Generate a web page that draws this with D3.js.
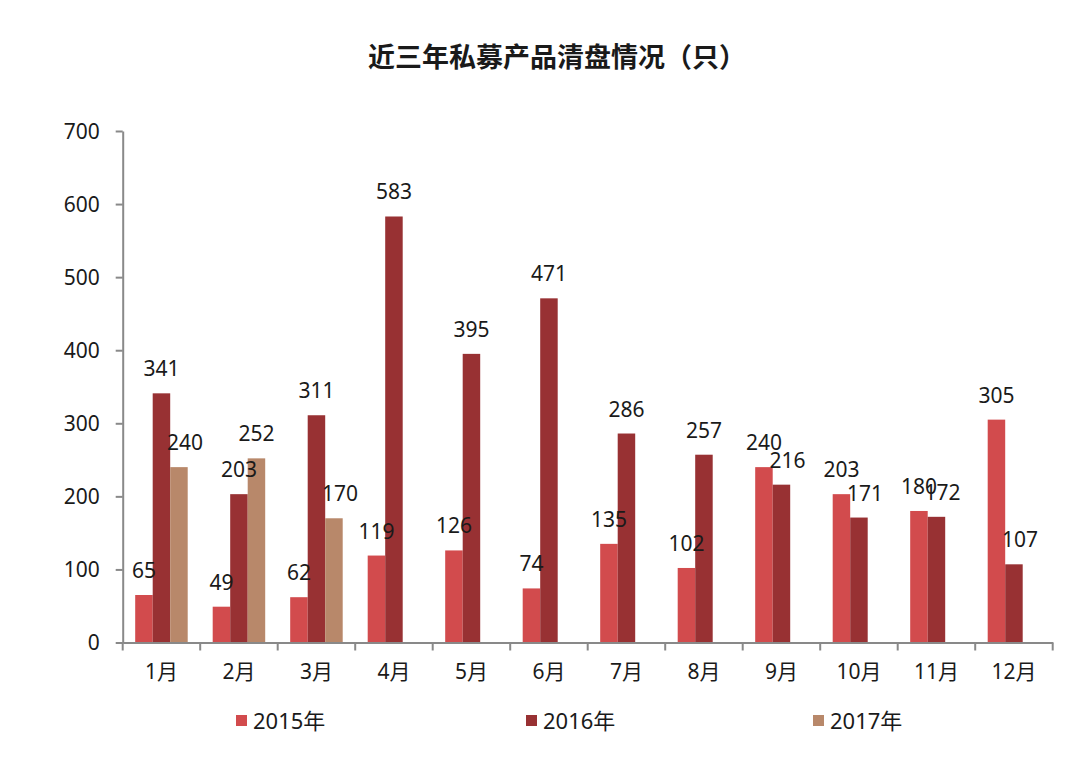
<!DOCTYPE html>
<html>
<head>
<meta charset="utf-8">
<script src="https://cdn.jsdelivr.net/npm/d3@7"></script>
<style>
  html, body { margin: 0; padding: 0; background: #fff; }
  svg { display: block; }
  text { font-family: "Noto Sans", "Noto Sans CJK SC", sans-serif; fill: #1a1a1a; }
</style>
</head>
<body>
<svg id="chart" width="1090" height="761"></svg>
<script>
const title = "近三年私募产品清盘情况（只）";
const months = ["1月","2月","3月","4月","5月","6月","7月","8月","9月","10月","11月","12月"];
const seriesNames = ["2015年","2016年","2017年"];
const values2015 = [65, 49, 62, 119, 126, 74, 135, 102, 240, 203, 180, 305];
const values2016 = [341, 203, 311, 583, 395, 471, 286, 257, 216, 171, 172, 107];
const values2017 = [240, 252, 170, null, null, null, null, null, null, null, null, null];
const yTicks = [0, 100, 200, 300, 400, 500, 600, 700];
const colors = ["#d24b4d", "#983133", "#b8886a"];

const allSeries = [values2015, values2016, values2017];

const svg = d3.select("#chart");
const margin = {left: 122.7, right: 1090 - 1052.7, top: 131, bottom: 761 - 642.5};
const W = 1090, H = 761;

const x = d3.scaleBand().domain(months).range([margin.left, W - margin.right]).paddingInner(0).paddingOuter(0);
const x1 = d3.scaleBand().domain(seriesNames).range([0, x.bandwidth()]).paddingOuter(0.714).paddingInner(0);
const y = d3.scaleLinear().domain([0, 700]).range([H - margin.bottom, margin.top]);

// title
svg.append("text")
  .attr("x", 557).attr("y", 67)
  .attr("text-anchor", "middle")
  .style("font-family", "'Noto Sans CJK SC', serif")
  .style("font-size", "27px")
  .style("font-weight", "600")
  .text(title);

const cellData = (m, i) => seriesNames
  .map((s, j) => ({s, j, i, v: allSeries[j][i], left: j > 0 ? allSeries[j - 1][i] : null}))
  .filter(d => d.v != null);

// bars
const groups = svg.append("g").selectAll("g")
  .data(months).join("g")
  .attr("transform", d => `translate(${x(d)},0)`);

groups.selectAll("rect")
  .data(cellData)
  .join("rect")
  .attr("x", d => x1(d.s))
  .attr("width", x1.bandwidth())
  .attr("y", d => y(d.v))
  .attr("height", d => y(0) - y(d.v))
  .attr("fill", d => colors[d.j]);

// y axis
const yAxis = d3.axisLeft(y).tickValues(yTicks).tickSize(7).tickPadding(16).tickSizeOuter(0);
const gy = svg.append("g").attr("transform", `translate(${margin.left},0)`).call(yAxis);
gy.select(".domain").attr("stroke", "#898989").attr("stroke-width", 2);
gy.selectAll(".tick line").attr("stroke", "#898989").attr("stroke-width", 2);
gy.selectAll(".tick text").style("font-size", "21px").style("fill", "#1a1a1a").attr("dy", "0.35em");

// x axis
const xAxis = d3.axisBottom(x).tickSize(0).tickPadding(22);
const gx = svg.append("g").attr("transform", `translate(0,${y(0)})`).call(xAxis);
gx.select(".domain").attr("stroke", "#898989").attr("stroke-width", 2);
gx.selectAll(".tick text").style("font-size", "21px").style("fill", "#1a1a1a");
// boundary ticks between categories
const boundaries = months.map(m => x(m)).concat([x(months[months.length - 1]) + x.bandwidth()]);
svg.append("g").selectAll("line").data(boundaries).join("line")
  .attr("x1", d => d).attr("x2", d => d)
  .attr("y1", y(0)).attr("y2", y(0) + 8)
  .attr("stroke", "#898989").attr("stroke-width", 2);

// data labels (nudged right when the bar on the left is taller, as in the original)
groups.selectAll("text.lbl")
  .data(cellData)
  .join("text")
  .attr("class", "lbl")
  .attr("x", d => x1(d.s) + x1.bandwidth() / 2 + (d.left != null && d.left > d.v ? 6 : 0))
  .attr("y", d => y(d.v) - 17)
  .attr("text-anchor", "middle")
  .style("font-size", "21px")
  .text(d => d.v);

// legend
const legendX = [236, 526, 813];
const lg = svg.append("g").selectAll("g").data(seriesNames).join("g")
  .attr("transform", (d, i) => `translate(${legendX[i]},715)`);
lg.append("rect").attr("width", 11).attr("height", 11).attr("fill", (d, i) => colors[i]);
lg.append("text").attr("x", 17).attr("y", 13.5).style("font-size", "22px").text(d => d);
</script>
</body>
</html>
